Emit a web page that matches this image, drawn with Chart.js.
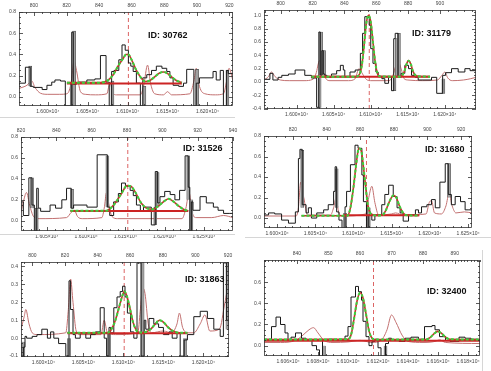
<!DOCTYPE html>
<html>
<head>
<meta charset="utf-8">
<script src="https://cdn.jsdelivr.net/npm/chart.js@4.4.1/dist/chart.umd.min.js"></script>
<style>
  body { margin: 0; background: #fff; width: 491px; height: 371px; position: relative; overflow: hidden; }
  canvas { position: absolute; }
  .id { position: absolute; font: bold 9px 'Liberation Sans', Arial, sans-serif; color: #111; white-space: nowrap; }
  .rule { position: absolute; background: #d6d6d6; }
</style>
</head>
<body>
<script>
// ---------- panel 1 : ID 30762 ----------
const p1XRange = [15964, 16232];
const p1TopRange = [790.8, 922.2];
const p1YRange = [-0.085, 0.8];
const p1XTicks = [16000, 16050, 16100, 16150, 16200];
const p1TopTicks = [800, 820, 840, 860, 880, 900, 920];
const p1YTicks = [0, 0.2, 0.4, 0.6, 0.8];
const p1Spec = [[15964,0.11],[15972,0.13],[15978,0.28],[15982,0.10],[15993,0.09],[15999,0.07],[16005,0.11],[16009,0.14],[16016,0.16],[16022,0.15],[16030,-0.085],[16032,0.61],[16036,0.12],[16039,0.135],[16049,0.14],[16059,0.16],[16066,0.17],[16073,0.39],[16077,0.14],[16080,-0.085],[16083,0.24],[16089,0.25],[16093,0.35],[16097,0.49],[16101,0.44],[16104,0.32],[16107,0.29],[16111,0.24],[16116,0.13],[16119,-0.085],[16124,0.18],[16130,0.21],[16136,0.25],[16143,0.29],[16149,0.27],[16153,0.24],[16157,0.18],[16164,0.11],[16170,0.10],[16174,0.13],[16183,0.26],[16186,-0.085],[16190,0.13],[16207,0.18],[16211,0.24],[16216,0.16],[16220,0.25],[16224,-0.085],[16226,0.25],[16232,0.22]];
const p1Bars = [[15978,0.10,0.29],[16030,-0.085,0.12],[16033,-0.085,0.62],[16081,-0.085,0.15],[16121,-0.085,0.10],[16187,-0.085,0.26],[16225,-0.085,0.25]];
const p1Noise = [[15964,0.08],[15974,0.11],[15980,0.15],[15984,0.09],[15991,0.035],[16000,0.025],[16015,0.025],[16024,0.03],[16029,0.12],[16033,0.34],[16036,0.25],[16041,0.05],[16047,0.025],[16060,0.02],[16074,0.03],[16078,0.14],[16081,0.05],[16086,0.02],[16100,0.02],[16116,0.02],[16120,0.1],[16125,0.3],[16129,0.12],[16134,0.03],[16145,0.02],[16150,0.05],[16155,0.02],[16178,0.03],[16183,0.15],[16186,0.27],[16190,0.1],[16197,0.03],[16210,0.02],[16220,0.03],[16224,0.15],[16227,0.27],[16232,0.15]];
const p1Fit = [[16024,0.135],[16066,0.135],[16074,0.15],[16082,0.21],[16088,0.29],[16095,0.37],[16098,0.40],[16101,0.40],[16105,0.35],[16111,0.25],[16118,0.17],[16122,0.145],[16128,0.155],[16134,0.19],[16140,0.225],[16145,0.235],[16149,0.225],[16155,0.19],[16161,0.155],[16168,0.135]];
const p1Cont = [[16024,0.128],[16168,0.128]];
const p1Obs = 16101;

// ---------- panel 2 : ID 31179 ----------
const p2XRange = [15956, 16242];
const p2TopRange = [789.5, 922.6];
const p2YRange = [-0.405, 1.08];
const p2XTicks = [16000, 16050, 16100, 16150, 16200];
const p2TopTicks = [800, 820, 840, 860, 880, 900];
const p2YTicks = [-0.4, -0.2, 0, 0.2, 0.4, 0.6, 0.8, 1.0];
const p2Spec = [[15956,0.09],[15964,0.04],[15968,0.13],[15975,0.03],[15980,0.07],[15989,0.10],[15998,0.12],[16011,0.18],[16020,0.10],[16027,0.06],[16030,-0.38],[16032,0.75],[16034,0.10],[16036,0.47],[16038,0.12],[16041,0.10],[16047,0.07],[16054,0.12],[16059,0.17],[16063,0.25],[16065,0.18],[16072,0.08],[16079,0.15],[16086,0.18],[16089,0.43],[16092,0.73],[16095,0.98],[16098,0.97],[16100,0.85],[16103,0.50],[16107,0.28],[16110,0.15],[16115,0.08],[16119,0.05],[16124,-0.02],[16128,0.07],[16131,-0.13],[16133,0.65],[16137,0.73],[16141,0.07],[16146,0.13],[16151,0.25],[16155,0.20],[16160,0.10],[16164,0.07],[16182,0.03],[16189,0.07],[16197,-0.17],[16201,0.10],[16209,0.14],[16218,0.20],[16227,0.15],[16234,0.20],[16242,0.17]];
const p2Bars = [[16031,-0.38,0.06],[16033,0.10,0.75],[16037,0.10,0.47],[16132,-0.13,0.07],[16135,0.07,0.65],[16138,0.07,0.73],[16198,-0.17,0.05]];
const p2Noise = [[15956,0.03],[15962,0.08],[15966,0.15],[15971,0.08],[15978,0.03],[15990,0.02],[16010,0.02],[16022,0.04],[16026,0.12],[16031,0.32],[16035,0.25],[16039,0.06],[16045,0.02],[16070,0.02],[16079,0.05],[16084,0.2],[16089,0.12],[16094,0.04],[16100,0.02],[16125,0.02],[16130,0.1],[16134,0.25],[16137,0.3],[16141,0.2],[16145,0.05],[16150,0.03],[16170,0.02],[16190,0.03],[16196,0.1],[16200,0.15],[16204,0.06],[16210,0.02],[16225,0.03],[16235,0.05],[16242,0.07]];
const p2Fit = [[16020,0.08],[16080,0.08],[16085,0.12],[16088,0.25],[16091,0.55],[16094,0.88],[16097,1.0],[16100,0.9],[16103,0.6],[16106,0.3],[16109,0.13],[16112,0.085],[16140,0.08],[16145,0.15],[16148,0.26],[16151,0.32],[16154,0.27],[16157,0.16],[16162,0.09],[16180,0.08]];
const p2Cont = [[16020,0.08],[16180,0.08]];
const p2Obs = 16098;

// ---------- panel 3 : ID 31526 ----------
const p3XRange = [16017, 16287];
const p3TopRange = [820, 940];
const p3YRange = [-0.098, 0.8];
const p3XTicks = [16050, 16100, 16150, 16200, 16250];
const p3TopTicks = [820, 840, 860, 880, 900, 920, 940];
const p3YTicks = [0, 0.2, 0.4, 0.6, 0.8];
const p3Spec = [[16017,0.10],[16020,0.18],[16027,0.05],[16031,0.41],[16034,0.15],[16037,-0.10],[16039,0.31],[16042,0.12],[16054,0.09],[16061,0.15],[16069,0.12],[16075,0.20],[16081,0.31],[16084,0.12],[16101,0.15],[16114,0.13],[16127,0.63],[16130,0.13],[16135,0.05],[16141,0.18],[16145,0.26],[16150,0.36],[16156,0.33],[16160,0.29],[16164,0.24],[16169,0.15],[16173,0.09],[16183,0.13],[16188,-0.04],[16191,0.47],[16194,0.17],[16200,0.23],[16207,0.28],[16213,0.25],[16219,0.20],[16226,0.29],[16230,0.62],[16232,0.32],[16234,-0.10],[16236,0.18],[16245,0.10],[16253,0.23],[16262,0.17],[16268,0.13],[16275,0.10],[16283,0.07],[16287,0.07]];
const p3Bars = [[16031,0.12,0.41],[16037,-0.1,0.12],[16082,0.12,0.30],[16127,0.13,0.62],[16188,-0.04,0.13],[16191,0.13,0.46],[16230,0.20,0.62],[16234,-0.1,0.20]];
const p3Noise = [[16017,0.08],[16020,0.18],[16024,0.27],[16028,0.15],[16033,0.04],[16040,0.02],[16075,0.03],[16081,0.08],[16085,0.1],[16089,0.04],[16095,0.02],[16120,0.03],[16123,0.12],[16126,0.27],[16129,0.15],[16133,0.04],[16140,0.02],[16180,0.02],[16222,0.02],[16227,0.12],[16231,0.27],[16235,0.08],[16240,0.03],[16260,0.03],[16275,0.05],[16287,0.03]];
const p3Fit = [[16080,0.095],[16125,0.095],[16135,0.15],[16145,0.26],[16152,0.335],[16157,0.33],[16162,0.28],[16170,0.17],[16177,0.12],[16185,0.11],[16192,0.14],[16200,0.19],[16205,0.21],[16210,0.19],[16218,0.14],[16225,0.105],[16230,0.095]];
const p3Cont = [[16080,0.093],[16230,0.093]];
const p3Obs = 16153;

// ---------- panel 4 : ID 31680 ----------
const p4XRange = [15983, 16255];
const p4TopRange = [802.8, 926.5];
const p4YRange = [-0.097, 0.8];
const p4XTicks = [16000, 16050, 16100, 16150, 16200, 16250];
const p4TopTicks = [820, 840, 860, 880, 900, 920];
const p4YTicks = [0, 0.2, 0.4, 0.6, 0.8];
const p4Spec = [[15983,0.05],[15989,0.03],[15997,0.05],[16006,0.04],[16015,-0.02],[16024,-0.05],[16028,0.06],[16030,0.58],[16033,0.67],[16038,0.13],[16041,0.05],[16045,0.10],[16052,0.00],[16061,0.05],[16067,0.08],[16074,0.13],[16076,0.26],[16078,0.50],[16081,0.06],[16085,-0.02],[16089,-0.10],[16091,0.11],[16096,0.26],[16102,0.52],[16106,0.71],[16111,0.68],[16113,0.42],[16117,0.16],[16120,-0.10],[16124,0.03],[16128,-0.02],[16137,0.03],[16141,0.13],[16146,0.23],[16152,0.32],[16157,0.21],[16161,0.10],[16165,0.05],[16172,-0.03],[16181,0.03],[16185,0.08],[16189,0.05],[16196,0.11],[16202,0.13],[16207,0.18],[16213,0.10],[16220,0.35],[16224,0.53],[16228,0.23],[16233,0.13],[16240,0.21],[16246,0.16],[16250,0.08],[16255,0.08]];
const p4Bars = [[16033,0.10,0.66],[16078,0.10,0.48],[16089,-0.1,0.05],[16120,-0.1,0.10],[16225,0.20,0.53]];
const p4Noise = [[15983,0.02],[16000,0.02],[16025,0.02],[16028,0.1],[16031,0.35],[16035,0.2],[16040,0.03],[16070,0.03],[16074,0.1],[16077,0.19],[16081,0.05],[16086,0.02],[16116,0.04],[16120,0.2],[16124,0.31],[16128,0.15],[16133,0.03],[16150,0.04],[16155,0.05],[16165,0.03],[16195,0.04],[16199,0.15],[16202,0.17],[16206,0.05],[16215,0.04],[16221,0.12],[16225,0.24],[16229,0.12],[16234,0.05],[16245,0.06],[16255,0.05]];
const p4Fit = [[16032,0.022],[16092,0.022],[16096,0.1],[16100,0.3],[16104,0.55],[16107,0.68],[16110,0.66],[16113,0.5],[16116,0.3],[16119,0.12],[16123,0.04],[16130,0.025],[16138,0.03],[16142,0.07],[16147,0.16],[16152,0.22],[16156,0.2],[16160,0.12],[16165,0.05],[16170,0.027],[16186,0.025]];
const p4Cont = [[16087,0.027],[16186,0.027]];
const p4Obs = 16117;

// ---------- panel 5 : ID 31863 ----------
const p5XRange = [15972, 16232];
const p5TopRange = [793, 920.6];
const p5YRange = [-0.105, 0.425];
const p5XTicks = [16000, 16050, 16100, 16150, 16200];
const p5TopTicks = [800, 820, 840, 860, 880, 900, 920];
const p5YTicks = [-0.1, 0, 0.1, 0.2, 0.3, 0.4];
const p5Spec = [[15972,-0.03],[15975,-0.10],[15977,-0.05],[15979,0.01],[15986,0.00],[15992,0.01],[15998,0.02],[16005,0.05],[16009,0.00],[16013,0.035],[16019,0.00],[16028,-0.03],[16032,-0.10],[16034,0.32],[16037,0.16],[16040,0.02],[16046,0.00],[16053,0.03],[16059,0.00],[16065,0.02],[16071,0.035],[16076,0.17],[16079,0.00],[16082,-0.10],[16084,0.06],[16088,0.03],[16092,0.17],[16096,0.23],[16099,0.26],[16102,0.29],[16105,0.23],[16109,0.14],[16113,0.035],[16117,0.00],[16122,0.42],[16126,-0.10],[16128,0.10],[16132,0.05],[16138,0.11],[16144,0.08],[16150,0.06],[16157,0.02],[16161,0.035],[16167,0.00],[16171,0.03],[16176,-0.10],[16180,-0.01],[16188,0.02],[16196,0.12],[16205,0.15],[16213,0.11],[16221,0.05],[16225,0.01],[16229,0.42],[16232,0.10]];
const p5Bars = [[15975,-0.105,-0.02],[16032,-0.105,0.0],[16082,-0.105,0.03],[16124,-0.105,0.425],[16177,-0.105,0.0],[16230,0.05,0.42]];
const p5Noise = [[15972,0.05],[15976,0.12],[15978,0.16],[15982,0.08],[15986,0.03],[15992,0.02],[16028,0.03],[16031,0.15],[16034,0.33],[16037,0.2],[16041,0.04],[16046,0.02],[16072,0.02],[16076,0.1],[16080,0.03],[16090,0.02],[16118,0.03],[16121,0.15],[16124,0.28],[16127,0.25],[16131,0.08],[16135,0.03],[16150,0.04],[16160,0.03],[16167,0.08],[16170,0.14],[16174,0.06],[16180,0.03],[16188,0.03],[16196,0.08],[16202,0.13],[16208,0.04],[16220,0.05],[16227,0.2],[16230,0.26],[16233,0.2]];
const p5Fit = [[16030,0.03],[16080,0.03],[16085,0.05],[16090,0.1],[16095,0.18],[16099,0.24],[16101,0.26],[16104,0.24],[16108,0.17],[16112,0.09],[16116,0.045],[16120,0.032],[16128,0.035],[16134,0.05],[16140,0.08],[16145,0.1],[16150,0.09],[16156,0.06],[16162,0.04],[16170,0.03],[16180,0.03]];
const p5Cont = [[16030,0.028],[16180,0.028]];
const p5Obs = 16101;

// ---------- panel 6 : ID 32400 ----------
const p6XRange = [16044, 16188];
const p6TopRange = [829.6, 898];
const p6YRange = [-0.098, 0.81];
const p6XTicks = [16060, 16080, 16100, 16120, 16140, 16160, 16180];
const p6TopTicks = [840, 850, 860, 870, 880, 890];
const p6YTicks = [0, 0.2, 0.4, 0.6];
const p6Spec = [[16044,0.05],[16049,0.06],[16052,0.18],[16055,0.27],[16058,0.20],[16060,0.12],[16062,0.05],[16065,0.08],[16069,0.12],[16072,0.07],[16076,0.05],[16079,0.0],[16081,-0.04],[16083,-0.10],[16086,0.05],[16091,0.06],[16096,0.05],[16098,0.06],[16100,0.09],[16102,0.18],[16105,0.46],[16107,0.56],[16109,0.51],[16110,0.43],[16112,0.23],[16114,0.085],[16116,0.00],[16118,0.04],[16120,0.06],[16122,-0.02],[16125,-0.10],[16127,0.02],[16129,0.07],[16134,0.05],[16138,0.04],[16142,0.07],[16147,0.08],[16151,0.06],[16156,0.18],[16158,0.19],[16161,0.15],[16165,0.085],[16168,0.05],[16174,0.04],[16178,0.08],[16182,0.07],[16187,0.06]];
const p6Bars = [[16084,-0.098,0.0],[16125,-0.098,0.0]];
const p6Noise = [[16044,0.03],[16055,0.03],[16065,0.05],[16070,0.1],[16074,0.15],[16077,0.17],[16080,0.12],[16084,0.05],[16090,0.03],[16100,0.035],[16108,0.05],[16116,0.03],[16122,0.05],[16126,0.15],[16129,0.29],[16132,0.22],[16136,0.1],[16140,0.04],[16150,0.03],[16158,0.04],[16161,0.055],[16165,0.03],[16188,0.02]];
const p6Fit = [[16044,0.058],[16100,0.06],[16102,0.1],[16104,0.25],[16106,0.42],[16108,0.5],[16110,0.45],[16112,0.3],[16114,0.14],[16116,0.07],[16118,0.058],[16152,0.058],[16155,0.08],[16158,0.12],[16160,0.135],[16162,0.12],[16165,0.08],[16168,0.06],[16188,0.058]];
const p6Cont = [[16044,0.047],[16188,0.047]];
const p6Obs = 16117;

const panelIds = ['ID: 30762', 'ID: 31179', 'ID: 31526', 'ID: 31680', 'ID: 31863', 'ID: 32400'];

// layout: canvas box on page, plot area inside canvas, id label position, minor tick divisions
const panels = [
  { box: [0, 0, 245, 125], plot: [19, 12, 233, 106], idPos: [148, 30], minor: [5, 4, 4],
    xr: p1XRange, tr: p1TopRange, yr: p1YRange, xt: p1XTicks, tt: p1TopTicks, yt: p1YTicks,
    spec: p1Spec, bars: p1Bars, noise: p1Noise, fit: p1Fit, cont: p1Cont, obs: p1Obs },
  { box: [245, 0, 246, 125], plot: [19, 10, 231, 109], idPos: [412, 28], minor: [5, 4, 4],
    xr: p2XRange, tr: p2TopRange, yr: p2YRange, xt: p2XTicks, tt: p2TopTicks, yt: p2YTicks,
    spec: p2Spec, bars: p2Bars, noise: p2Noise, fit: p2Fit, cont: p2Cont, obs: p2Obs },
  { box: [0, 125, 245, 125], plot: [21, 12, 233, 106], idPos: [183, 143], minor: [5, 4, 4],
    xr: p3XRange, tr: p3TopRange, yr: p3YRange, xt: p3XTicks, tt: p3TopTicks, yt: p3YTicks,
    spec: p3Spec, bars: p3Bars, noise: p3Noise, fit: p3Fit, cont: p3Cont, obs: p3Obs },
  { box: [245, 125, 246, 125], plot: [19, 11, 227, 103], idPos: [425, 144], minor: [5, 4, 4],
    xr: p4XRange, tr: p4TopRange, yr: p4YRange, xt: p4XTicks, tt: p4TopTicks, yt: p4YTicks,
    spec: p4Spec, bars: p4Bars, noise: p4Noise, fit: p4Fit, cont: p4Cont, obs: p4Obs },
  { box: [0, 250, 245, 121], plot: [21, 12, 229, 107], idPos: [185, 274], minor: [5, 4, 4],
    xr: p5XRange, tr: p5TopRange, yr: p5YRange, xt: p5XTicks, tt: p5TopTicks, yt: p5YTicks,
    spec: p5Spec, bars: p5Bars, noise: p5Noise, fit: p5Fit, cont: p5Cont, obs: p5Obs },
  { box: [245, 250, 246, 121], plot: [19, 10, 235, 106], idPos: [427, 286], minor: [4, 10, 4],
    xr: p6XRange, tr: p6TopRange, yr: p6YRange, xt: p6XTicks, tt: p6TopTicks, yt: p6YTicks,
    spec: p6Spec, bars: p6Bars, noise: p6Noise, fit: p6Fit, cont: p6Cont, obs: p6Obs }
];

const pts = a => a.map(([x, y]) => ({ x, y }));
const TICK_FONT = { family: "'Liberation Sans', Arial, sans-serif", size: 5 };

// IDL-style box with inward major/minor ticks on all four sides
const boxTicks = {
  id: 'boxTicks',
  afterDatasetsDraw(chart, args, opts) {
    const { ctx, chartArea: a } = chart;
    ctx.save();
    ctx.strokeStyle = '#333';
    ctx.lineWidth = 0.8;
    ctx.beginPath();
    const mark = (scale, n, edge) => {
      const t = scale.ticks.map(k => k.value);
      const step = (t[1] - t[0]) / n;
      let v = t[0] - step * Math.floor((t[0] - scale.min) / step);
      for (; v <= scale.max + 1e-9; v += step) {
        const major = t.some(m => Math.abs(m - v) < step / 10);
        const len = major ? 4 : 2;
        const p = Math.round(scale.getPixelForValue(v)) + 0.5;
        if (edge === 'bottom') { ctx.moveTo(p, a.bottom); ctx.lineTo(p, a.bottom - len); }
        if (edge === 'top') { ctx.moveTo(p, a.top); ctx.lineTo(p, a.top + len); }
        if (edge === 'left') { ctx.moveTo(a.left, p); ctx.lineTo(a.left + len, p); }
        if (edge === 'right') { ctx.moveTo(a.right, p); ctx.lineTo(a.right - len, p); }
      }
    };
    mark(chart.scales.x, opts.minor[0], 'bottom');
    mark(chart.scales.xt, opts.minor[1], 'top');
    mark(chart.scales.y, opts.minor[2], 'left');
    mark(chart.scales.y, opts.minor[2], 'right');
    ctx.stroke();
    ctx.strokeRect(a.left + 0.5, a.top + 0.5, a.right - a.left - 1, a.bottom - a.top - 1);
    ctx.restore();
  }
};

function axis(pos, range, ticks, fit, fmt) {
  return {
    type: 'linear', position: pos, axis: (pos === 'left') ? 'y' : 'x',
    min: range[0], max: range[1], bounds: 'data', offset: false,
    afterBuildTicks: s => { s.ticks = ticks.map(v => ({ value: v })); },
    afterFit: fit,
    grid: { display: false, drawTicks: false, offset: false },
    border: { display: false },
    ticks: { autoSkip: false, maxRotation: 0, minRotation: 0, padding: 3, color: '#444', font: TICK_FONT, callback: fmt }
  };
}

panels.forEach((p, i) => {
  const [bx, by, W, H] = p.box;
  const [pl, pt, pr, pb] = p.plot;
  const cv = document.createElement('canvas');
  cv.width = W; cv.height = H;
  cv.style.left = bx + 'px'; cv.style.top = by + 'px';
  document.body.appendChild(cv);

  const lbl = document.createElement('div');
  lbl.className = 'id';
  lbl.textContent = panelIds[i];
  lbl.style.left = p.idPos[0] + 'px'; lbl.style.top = p.idPos[1] + 'px';
  document.body.appendChild(lbl);

  new Chart(cv, {
    type: 'line',
    data: {
      datasets: [
        { data: pts(p.fit), borderColor: '#3ccf3c', borderWidth: 2, borderDash: [3, 2], cubicInterpolationMode: 'monotone' },
        { data: pts(p.fit), borderColor: '#c8302c', borderWidth: 1.6, cubicInterpolationMode: 'monotone' },
        { data: pts(p.cont), borderColor: '#cc2424', borderWidth: 2 },
        { data: pts(p.spec), borderColor: '#1a1a1a', borderWidth: 1, stepped: 'after' },
        { type: 'bar', data: p.bars.map(([x, lo, hi]) => ({ x, y: [lo, hi] })), backgroundColor: '#a0a0a0',
          borderColor: '#444', borderWidth: 0.6, barThickness: 3, grouped: false },
        { data: pts(p.noise), borderColor: '#c27070', borderWidth: 1, cubicInterpolationMode: 'monotone' },
        { data: [{ x: p.obs, y: p.yr[0] }, { x: p.obs, y: p.yr[1] }], borderColor: '#dc6464', borderWidth: 1, borderDash: [4, 3] }
      ]
    },
    options: {
      responsive: false,
      animation: false,
      events: [],
      layout: { padding: { left: 0, top: 0, right: W - pr, bottom: 0 } },
      elements: { point: { radius: 0 } },
      plugins: { legend: { display: false }, tooltip: { enabled: false }, boxTicks: { minor: p.minor } },
      scales: {
        x: axis('bottom', p.xr, p.xt, s => { s.height = H - pb; }, v => (v / 1e4).toFixed(3) + '×10⁴'),
        xt: axis('top', p.tr, p.tt, s => { s.height = pt; }, v => String(v)),
        y: axis('left', p.yr, p.yt, s => { s.width = pl; }, v => v.toFixed(1))
      }
    },
    plugins: [boxTicks]
  });
});

// faint frame edges of the pasted panels
[[0, 117, 235, 1], [0, 234, 235, 1], [245, 237, 246, 1], [482, 250, 1, 121]].forEach(([x, y, w, h]) => {
  const d = document.createElement('div');
  d.className = 'rule';
  Object.assign(d.style, { left: x + 'px', top: y + 'px', width: w + 'px', height: h + 'px' });
  document.body.appendChild(d);
});
</script>
</body>
</html>
